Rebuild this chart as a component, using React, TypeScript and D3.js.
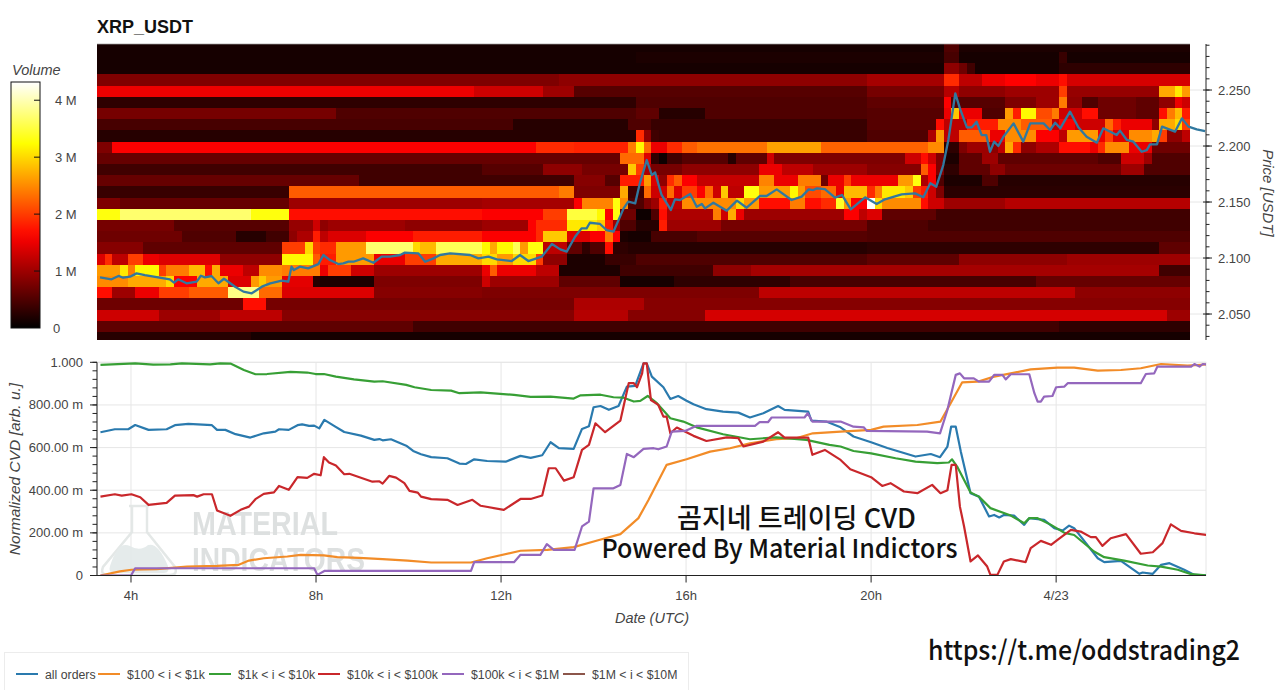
import React from "react";
import * as d3 from "d3";

// ---------- heatmap: volume (millions) per price bin, run-length form [untilColumn, value, ...]
const heatBinTopPrice = 2.294;
const heatBinSize = 0.01;
const heatColumns = 142;
const heatStartHour = 3.265;
const heatEndHour = 26.897;
const volumeRuns: number[][] = [
  [110,.15,112,.5,142,.18],
  [70,.15,110,.2,112,.45,125,.15,126,.35,142,.12],
  [110,.12,112,.9,113,.7,114,.4,125,.12,135,.3,142,.3],
  [60,.8,100,.9,110,1.05,112,1.9,115,1.2,118,1.5,122,1.65,125,1.5,126,1.7,142,1.35],
  [49,1.5,58,1.3,62,1.0,100,.55,110,.75,112,1.15,118,.9,125,1.0,126,2.0,138,.95,140,2.7,141,3.1,142,2.6],
  [70,.3,100,.5,110,.6,111,1.6,118,.55,122,.8,125,1.0,126,2.4,128,.9,130,.5,135,.7,138,.6,140,.9,141,1.5,142,1.3],
  [31,.75,70,.5,73,.6,79,.25,100,.5,110,.55,111,1.5,112,2.9,115,1.5,118,.5,119,2.6,120,1.8,122,3.2,124,2.1,125,2.4,128,1.3,130,1.7,135,.7,138,.6,139,1.7,140,2.4,141,2.8,142,1.8],
  [54,.45,69,.25,72,.5,100,.35,109,.55,110,1.7,113,1.2,117,1.8,120,2.5,124,2.2,125,1.2,127,1.6,131,1.3,132,2.3,133,1.8,137,1.5,138,.9,140,2.7,141,3.0,142,2.0],
  [70,.25,71,1.9,72,.9,73,.4,100,.35,108,.5,109,1.1,110,2.6,112,1.2,116,2.2,118,1.5,122,2.5,125,1.6,126,1.2,130,2.6,131,1.5,132,2.0,134,1.4,137,2.5,138,2.7,139,2.0,141,.9,142,1.2],
  [2,.8,57,1.6,62,1.9,69,1.85,70,2.4,71,3.2,72,2.3,74,1.5,76,1.9,78,2.2,87,2.35,94,2.65,108,2.25,110,2.5,112,.3,113,.8,116,1.0,117,.9,118,1.2,119,2.7,120,1.9,122,.9,125,1.1,129,1.7,130,1.5,131,1.9,134,2.5,137,1.5,142,.7],
  [68,.65,71,2.3,72,1.4,73,.3,74,.1,76,.4,82,.55,83,.25,87,.6,88,1.3,105,.8,107,1.3,108,1.7,109,1.3,110,.8,112,.2,115,.6,117,1.0,130,.6,133,.5,136,1.3,137,1.0,142,.5],
  [50,.4,58,.55,63,.9,69,.75,70,2.9,71,2.0,72,1.1,76,.75,86,.9,89,1.5,93,1.2,100,1.0,107,.85,108,2.2,109,1.6,110,.8,112,.3,116,.6,118,.9,133,.7,136,1.0,142,.5],
  [34,.65,62,.4,66,.85,68,.55,71,1.8,72,2.6,73,1.4,74,.9,75,1.9,76,2.2,78,1.6,86,1.25,88,2.45,91,1.5,94,2.4,95,.7,97,1.5,98,2.0,104,1.5,106,2.6,107,3.3,108,1.1,109,1.6,110,.5,115,.2,117,.5,142,.25],
  [25,.35,60,2.2,62,2.4,68,.8,69,2.7,71,.4,72,2.3,74,1.3,75,2.3,76,1.4,78,2.0,79,1.6,80,2.3,81,1.3,82,2.9,84,1.2,86,3.3,88,2.6,90,2.6,91,3.2,92,2.6,94,2.1,96,2.3,97,1.5,100,2.8,101,1.9,102,2.4,105,3.1,106,2.9,107,2.0,108,1.8,109,1.3,110,.8,142,.28],
  [3,.8,25,.65,50,1.0,62,1.05,63,1.6,67,2.45,68,3.3,69,2.5,71,.5,72,.8,73,1.0,74,1.8,76,1.2,83,2.5,84,3.0,86,2.6,90,1.7,92,2.4,94,1.7,96,1.9,97,3.4,98,2.6,100,1.6,101,4.3,102,3.0,107,2.5,108,1.7,110,1.3,118,1.0,142,1.15],
  [3,3.3,20,3.7,25,3.3,50,1.7,58,1.6,61,2.0,65,3.5,66,3.2,67,1.6,68,3.3,70,.7,72,.1,73,.5,74,1.7,80,1.1,81,2.4,82,1.3,83,2.7,84,1.5,97,1.0,99,1.6,100,1.2,102,1.4,109,.6,142,.4],
  [10,.75,25,.55,28,.95,29,1.3,30,.9,40,1.0,50,.9,56,1.0,57,1.6,61,1.9,65,3.1,66,2.9,67,1.8,68,1.0,70,.5,73,.25,74,1.8,81,1.0,100,.75,108,.5,142,.4],
  [11,.7,18,.5,22,.25,25,.4,26,.9,28,1.1,29,1.8,30,1.2,35,1.4,41,1.6,50,1.8,57,1.6,58,1.9,61,2.9,64,1.4,66,1.6,67,2.4,68,1.6,69,.2,72,.15,78,.45,100,.55,142,.5],
  [6,.85,24,.6,27,2.0,28,3.0,29,2.0,31,1.9,35,2.6,41,3.7,42,3.0,44,2.8,50,3.6,51,3.2,52,2.7,54,3.2,55,3.6,56,2.6,58,3.3,61,1.2,63,.6,64,.3,66,.5,67,1.7,69,.3,100,.25,138,.3,142,.6],
  [1,1.4,2,1.9,4,1.2,6,2.0,8,1.5,16,1.4,24,.9,28,3.2,29,2.2,31,1.8,36,2.6,40,1.5,44,2.0,50,2.7,52,3.0,54,2.6,57,3.0,58,2.0,61,.9,66,.2,70,.35,100,.5,112,.6,126,.9,142,1.0],
  [3,2.6,4,3.1,5,2.4,8,3.2,9,2.0,12,2.4,14,2.8,15,1.7,16,2.7,19,1.5,21,1.2,24,2.5,29,2.4,30,1.5,33,2.0,36,1.3,50,1.0,51,1.5,52,2.2,57,1.5,60,1.2,68,.2,80,.4,85,.9,138,1.05,142,.4],
  [4,2.5,9,2.7,10,3.0,13,1.6,17,2.7,20,1.4,21,2.6,22,2.9,24,2.6,28,1.45,29,.25,36,.2,50,.8,51,1.3,60,1.0,68,.6,75,.15,90,.3,122,.45,142,.65],
  [2,1.7,5,1.0,8,1.5,12,2.0,17,2.2,21,3.8,24,2.3,36,1.4,50,.85,86,.8,127,1.2,142,.9],
  [19,.7,22,1.7,62,.75,71,1.1,142,.85],
  [8,1.3,16,1.0,24,1.2,62,.85,69,1.15,79,.85,139,1.35,142,1.0],
  [41,.6,125,.4,142,.3],
  [20,.25,142,.15],
];

// ---------- price line
const priceHours = [3.33,3.58,3.73,3.83,3.98,4.12,4.3,4.84,4.93,5.02,5.2,5.42,5.51,5.6,5.74,5.89,6.01,6.25,6.43,6.61,6.83,7.01,7.26,7.4,7.47,7.52,7.65,7.83,8.05,8.16,8.3,8.48,8.59,8.7,8.81,9.02,9.24,9.42,9.6,9.82,9.92,10.21,10.36,10.54,10.68,10.9,11.33,11.51,11.73,11.91,12.23,12.41,12.59,12.88,13.1,13.28,13.42,13.6,13.74,13.85,13.92,14.14,14.28,14.43,14.65,14.75,14.9,15.0,15.15,15.26,15.33,15.47,15.67,15.76,15.87,16.09,16.23,16.34,16.41,16.59,16.88,17.1,17.31,17.6,17.74,17.96,18.28,18.5,18.65,18.75,18.83,19.0,19.22,19.37,19.56,19.87,20.12,20.3,20.66,20.95,21.13,21.28,21.41,21.56,21.67,21.82,21.92,22.07,22.18,22.28,22.39,22.49,22.57,22.66,22.75,22.86,23.08,23.29,23.44,23.73,23.87,23.98,24.09,24.3,24.48,24.66,24.88,25.02,25.31,25.38,25.53,25.67,25.85,25.96,26.03,26.18,26.29,26.57,26.72,26.86,27.04,27.22];
const priceValues = [2.0827,2.081,2.084,2.0824,2.0833,2.0863,2.0848,2.081,2.078,2.081,2.0774,2.0789,2.0842,2.0827,2.0839,2.0774,2.0815,2.0744,2.07,2.0685,2.0744,2.0774,2.0798,2.0789,2.0923,2.0893,2.0923,2.0908,2.0946,2.1027,2.0982,2.0946,2.0952,2.0967,2.0967,2.0997,2.0958,2.1012,2.1012,2.1027,2.1048,2.1042,2.0967,2.0997,2.1027,2.1042,2.1027,2.0997,2.1012,2.0988,2.0973,2.1027,2.0973,2.1012,2.1125,2.1077,2.1057,2.119,2.1265,2.1265,2.1315,2.1304,2.125,2.1235,2.1443,2.1503,2.1488,2.1667,2.1875,2.1741,2.1765,2.1563,2.1429,2.1524,2.1518,2.1571,2.1458,2.1482,2.1443,2.1494,2.1423,2.1512,2.1449,2.1554,2.1554,2.1613,2.1518,2.1548,2.1613,2.1607,2.1622,2.1616,2.1539,2.1563,2.1435,2.1542,2.1482,2.1524,2.1568,2.1577,2.1542,2.1667,2.1637,2.183,2.2054,2.247,2.2336,2.2167,2.2167,2.2217,2.2098,2.2098,2.1949,2.2039,2.2,2.2083,2.2202,2.2039,2.2202,2.2202,2.2143,2.2208,2.2158,2.2307,2.2167,2.2083,2.203,2.2158,2.2098,2.2137,2.2054,2.2039,2.1949,2.1964,2.2015,2.2015,2.2173,2.2128,2.2247,2.2173,2.2149,2.2134];

// ---------- CVD series
const allOrdersHours = [3.34,3.65,3.94,4.09,4.38,4.77,4.95,5.24,5.75,5.86,6.04,6.26,6.58,6.87,7.12,7.2,7.41,7.6,7.7,7.85,7.96,8.07,8.18,8.39,8.61,8.97,9.26,9.37,9.44,9.62,9.95,10.1,10.27,10.49,10.84,11.1,11.24,11.42,11.7,12.1,12.42,12.64,12.89,13.07,13.25,13.57,13.75,13.9,14,14.15,14.33,14.54,14.72,14.9,15.08,15.15,15.26,15.51,15.66,15.83,16.01,16.16,16.44,16.8,17.13,17.38,17.67,17.99,18.13,18.64,18.71,19.03,19.34,19.62,20,20.35,20.96,21.29,21.49,21.65,21.73,21.83,21.94,22.15,22.33,22.55,22.66,22.77,22.87,23.09,23.31,23.42,23.74,23.96,24.14,24.28,24.39,24.9,25.04,25.4,25.8,25.87,26.09,26.27,26.45,26.77,26.99,27.26];
const allOrdersCvd = [.672,.686,.686,.706,.683,.686,.705,.711,.705,.683,.683,.663,.647,.667,.675,.686,.683,.705,.709,.702,.703,.69,.73,.702,.673,.656,.636,.64,.634,.639,.609,.584,.569,.555,.55,.525,.523,.545,.537,.534,.561,.552,.564,.625,.597,.594,.6875,.70,.789,.795,.777,.795,.886,.889,.995,.995,.933,.883,.828,.842,.82,.803,.78,.769,.764,.741,.761,.795,.777,.769,.727,.722,.695,.652,.625,.598,.558,.57,.555,.605,.698,.698,.581,.386,.37,.277,.284,.272,.284,.281,.2375,.269,.261,.222,.211,.234,.222,.081,.0625,.069,.008,.014,.008,.05,.058,.027,.003,0];

const k1k10Hours = [3.34,4.09,4.48,4.85,5.1,5.71,5.93,6.15,6.44,6.69,6.94,7.45,7.81,7.99,8.17,8.43,8.82,9.26,9.44,9.95,10.13,10.49,10.92,11.1,11.56,12.28,12.64,13.07,13.57,13.72,14.15,14.43,14.65,14.87,15.01,15.17,15.37,15.66,15.94,16.23,16.8,17.38,17.95,18.6,19.1,19.34,19.62,20,20.53,20.96,21.43,21.68,21.75,21.86,22.15,22.33,22.58,23.02,23.31,23.42,23.6,23.89,24.18,24.39,24.82,25.04,25.47,25.98,26.27,26.63,26.92,27.26];
const k1k10Cvd = [.9875,.995,.989,.99,.995,.99,.995,.994,.964,.944,.945,.955,.952,.945,.945,.933,.92,.909,.911,.894,.883,.87,.867,.855,.859,.847,.8375,.839,.83,.845,.848,.836,.834,.816,.819,.842,.808,.7375,.722,.695,.6625,.639,.648,.636,.6125,.605,.584,.573,.55,.534,.527,.53,.545,.511,.389,.37,.316,.281,.245,.269,.269,.2375,.20,.19,.1125,.086,.07,.047,.042,.027,.006,0];

const k10k100Hours = [3.34,3.65,3.8,4.01,4.2,4.38,4.77,4.95,5.35,5.43,5.57,5.75,5.86,6.15,6.37,6.55,6.69,6.87,7.09,7.2,7.41,7.6,7.81,7.96,8.1,8.17,8.28,8.43,8.61,8.72,9.22,9.37,9.44,9.58,9.73,9.91,10.02,10.2,10.27,10.49,10.84,11.06,11.38,11.56,12.06,12.42,12.64,12.89,13.03,13.18,13.36,13.57,13.75,13.9,14.04,14.25,14.58,14.76,14.87,14.94,15.05,15.08,15.15,15.24,15.4,15.51,15.58,15.66,15.8,16.16,16.44,16.88,17.13,17.24,17.67,17.99,18.13,18.64,18.73,19,19.34,19.55,20,20.24,20.42,20.71,21,21.32,21.5,21.65,21.74,21.83,21.92,22.01,22.15,22.31,22.51,22.58,22.73,22.87,23.02,23.34,23.45,23.67,23.89,24.03,24.32,24.53,24.75,24.86,25,25.18,25.51,25.83,26.09,26.3,26.48,26.7,26.99,27.26];
const k10k100Cvd = [.37,.381,.375,.381,.367,.331,.341,.375,.377,.37,.381,.381,.305,.28,.308,.323,.358,.383,.39,.42,.402,.461,.458,.477,.47,.555,.53,.516,.475,.477,.44,.442,.431,.467,.459,.433,.397,.389,.37,.358,.355,.331,.355,.327,.308,.359,.359,.375,.503,.503,.445,.461,.589,.6125,.714,.672,.727,.902,.902,.883,.948,.995,.995,.823,.80,.745,.745,.667,.694,.655,.631,.648,.644,.605,.628,.672,.647,.647,.566,.589,.542,.498,.461,.42,.433,.394,.386,.425,.386,.40,.519,.519,.323,.23,.066,.094,.042,.003,.003,.066,.077,.0625,.128,.1625,.144,.167,.214,.206,.18,.18,.139,.175,.194,.102,.109,.152,.24,.209,.198,.19];

const h100k1Hours = [3.34,3.76,4.01,4.55,5.21,5.86,6.33,6.55,6.87,7.38,7.67,8.17,8.46,8.93,9.44,9.98,10.49,11.35,11.7,12.42,13,13.57,14.08,14.58,14.97,15.19,15.58,16.01,16.52,16.95,17.38,17.95,18.38,18.74,19.34,20,20.27,21,21.5,21.72,21.97,22.3,22.66,23.02,23.45,24.03,24.39,24.9,25.4,25.83,26.27,26.84,27.26];
const h100k1Cvd = [0,.019,.027,.03,.042,.045,.05,.07,.081,.089,.097,.094,.086,.083,.077,.07,.061,.061,.081,.116,.12,.133,.164,.194,.269,.355,.519,.545,.581,.597,.62,.639,.644,.667,.675,.683,.698,.706,.722,.808,.906,.909,.933,.948,.967,.975,.975,.961,.964,.972,.992,.984,.99];

const k100m1Hours = [3.34,4.0,4.09,7.96,8.03,8.19,11.35,11.42,12.28,12.42,12.85,12.99,13.14,13.59,13.75,13.9,14,14.43,14.58,14.72,14.87,15.08,15.3,15.4,15.58,15.69,15.98,16.23,17.49,17.59,17.77,17.85,18.56,18.63,18.73,19.34,19.62,19.84,19.91,21.21,21.49,21.65,21.83,21.92,22.01,22.22,22.33,22.55,22.66,22.84,22.91,23.02,23.42,23.53,23.6,23.67,23.74,23.92,24,24.18,24.25,25.83,25.94,26.12,26.19,26.92,26.99,27.1,27.17,27.26];
const k100m1Cvd = [0,0,.034,.034,.003,.022,.022,.0625,.0625,.097,.097,.147,.12,.12,.23,.253,.409,.409,.425,.57,.555,.594,.597,.592,.605,.675,.678,.702,.702,.719,.719,.741,.741,.761,.722,.722,.698,.695,.678,.675,.667,.777,.941,.948,.925,.925,.909,.909,.941,.941,.92,.944,.944,.855,.816,.816,.839,.842,.883,.886,.902,.902,.945,.948,.98,.98,.992,.98,.992,.99];

const cvdSeries = [
  { name: "all orders", color: "#2a7aae", hours: allOrdersHours, values: allOrdersCvd },
  { name: "$100 < i < $1k", color: "#f28c28", hours: h100k1Hours, values: h100k1Cvd },
  { name: "$1k < i < $10k", color: "#379f35", hours: k1k10Hours, values: k1k10Cvd },
  { name: "$10k < i < $100k", color: "#c9272b", hours: k10k100Hours, values: k10k100Cvd },
  { name: "$100k < i < $1M", color: "#9467bd", hours: k100m1Hours, values: k100m1Cvd },
  { name: "$1M < i < $10M", color: "#8c564b", hours: [] as number[], values: [] as number[] },
];

const hourTicks = [4, 8, 12, 16, 20, 24];
const hourLabels = ["4h", "8h", "12h", "16h", "20h", "4/23"];
const priceTicks = [2.05, 2.1, 2.15, 2.2, 2.25];
const cvdTicks = [0, 0.2, 0.4, 0.6, 0.8, 1];
const cvdLabels = ["0", "200.00 m", "400.00 m", "600.00 m", "800.00 m", "1.000"];
const volumeTicks = [0, 1, 2, 3, 4];
const volumeLabels = ["0", "1 M", "2 M", "3 M", "4 M"];
const legendTextX = [45, 127, 238, 347, 471, 592];

const FONT = "'Liberation Sans', Arial, sans-serif";
const KR = "'Noto Sans CJK KR', sans-serif";
const INK = "#444";

const x = d3.scaleLinear().domain([3.265, 27.24]).range([97, 1206]);
const priceY = d3.scaleLinear().domain([2.0268, 2.2911]).range([340, 44]);
const cvdY = d3.scaleLinear().domain([0, 1]).range([575.5, 362.3]);
const volumeY = d3.scaleLinear().domain([0, 4.32]).range([328, 82]);
const heatColor = d3.scaleLinear<string>()
  .domain([0, 1.62, 3.24, 4.32])
  .range(["#000000", "#ff0000", "#ffff00", "#ffffff"])
  .clamp(true);

const colBand = d3.scaleBand<number>()
  .domain(d3.range(heatColumns))
  .range([x(heatStartHour), x(heatEndHour)]);

function expandRuns(runs: number[]): number[] {
  const out: number[] = [];
  for (let i = 0; i < runs.length; i += 2) {
    while (out.length < runs[i]) out.push(runs[i + 1]);
  }
  return out;
}

function linePath(hours: number[], values: number[], yScale: (v: number) => number) {
  const gen = d3.line<number>().x((_, i) => x(hours[i])).y((v) => yScale(v));
  return gen(values) ?? "";
}

const gradientStops = d3.range(0, 1.0001, 0.05);

export default function App() {
  return (
    <svg
      width={1280}
      height={690}
      viewBox="0 0 1280 690"
      style={{ position: "absolute", left: 0, top: 0, display: "block", background: "#fff" }}
      fontFamily={FONT}
    >
      <defs>
        <clipPath id="topClip"><rect x={97} y={44} width={1109} height={296} /></clipPath>
        <clipPath id="heatClip"><rect x={97} y={44} width={1093} height={296} /></clipPath>
        <clipPath id="botClip"><rect x={97} y={360} width={1109} height={216} /></clipPath>
        <linearGradient id="cbar" x1="0" y1="1" x2="0" y2="0">
          {gradientStops.map((t) => (
            <stop key={t} offset={t} stopColor={heatColor(t * 4.32)} />
          ))}
        </linearGradient>
        <filter id="soft" x="-1%" y="-1%" width="102%" height="102%">
          <feGaussianBlur stdDeviation="0.6" />
        </filter>
      </defs>

      <text x={97} y={33} fontSize={18} fontWeight="bold" fill="#111">XRP_USDT</text>

      {/* colour bar */}
      <text x={12} y={75} fontSize={14.5} fontStyle="italic" fill={INK}>Volume</text>
      <rect x={11} y={82} width={29} height={246} fill="url(#cbar)" stroke="#111" strokeWidth={1} />
      {volumeTicks.map((v, i) => (
        <g key={v}>
          {v > 0 && <line x1={34} x2={40} y1={volumeY(v)} y2={volumeY(v)} stroke="#111" />}
          <text x={v === 0 ? 53 : 55} y={volumeY(v) + 4.5} fontSize={13} fill={INK}>{volumeLabels[i]}</text>
        </g>
      ))}

      {/* heat map panel */}
      <g stroke="#e6e6e6">
        {priceTicks.map((p) => <line key={p} x1={97} x2={1206} y1={priceY(p)} y2={priceY(p)} />)}
      </g>
      <g clipPath="url(#heatClip)">
        <g filter="url(#soft)" shapeRendering="crispEdges">
          {volumeRuns.map((runs, r) => {
            const top = heatBinTopPrice - r * heatBinSize;
            const y0 = priceY(top);
            const y1 = priceY(top - heatBinSize);
            return expandRuns(runs).map((v, c) => (
              <rect key={`${r}-${c}`} x={colBand(c)} y={y0} width={colBand.bandwidth() + 0.5} height={y1 - y0 + 0.5} fill={heatColor(v)} />
            ));
          })}
        </g>
      </g>
      <path d={linePath(priceHours, priceValues, priceY)} fill="none" stroke="#31789f" strokeWidth={2.3} strokeLinejoin="round" clipPath="url(#topClip)" />
      <rect x={97} y={43.5} width={1093} height={0.8} fill="#bbb" />
      {/* price axis */}
      <line x1={1206} x2={1206} y1={44} y2={340} stroke="#222" />
      {d3.range(2.03, 2.2905, 0.01).map((p) => (
        <line key={p} x1={1206} x2={1209.5} y1={priceY(p)} y2={priceY(p)} stroke="#222" />
      ))}
      {priceTicks.map((p) => (
        <g key={p}>
          <line x1={1203} x2={1212} y1={priceY(p)} y2={priceY(p)} stroke="#222" />
          <text x={1218} y={priceY(p) + 4.5} fontSize={13} fill={INK}>{p.toFixed(3)}</text>
        </g>
      ))}
      <text transform="translate(1263,193) rotate(90)" textAnchor="middle" fontSize={15} fontStyle="italic" fill={INK}>Price [USDT]</text>

      {/* CVD panel */}
      <rect x={97} y={362.3} width={1109} height={213.2} fill="none" stroke="#e6e6e6" />
      <g stroke="#e6e6e6">
        {cvdTicks.map((v) => <line key={v} x1={97} x2={1206} y1={cvdY(v)} y2={cvdY(v)} />)}
        {hourTicks.map((h) => <line key={h} x1={x(h)} x2={x(h)} y1={362.3} y2={575.5} />)}
      </g>

      {/* watermark */}
      <g opacity={0.95}>
        <path d="M129 506 L149 506 M132 506 L132 532 L103 567 Q100 575 108 575 L170 575 Q178 575 175 567 L147 532 L147 506" fill="none" stroke="#e3e7e6" strokeWidth={2.5} />
        <path d="M110 566 Q118 540 130 546 Q140 552 148 545 Q158 542 168 566 Q170 573 164 573 L114 573 Q108 573 110 566 Z" fill="#e4eaea" />
        <text x={192} y={535} fontSize={34} fontWeight="bold" fill="#dcdfdf" textLength={146} lengthAdjust="spacingAndGlyphs">MATERIAL</text>
        <text x={192} y={571} fontSize={34} fontWeight="bold" fill="#dcdfdf" textLength={173} lengthAdjust="spacingAndGlyphs">INDICATORS</text>
      </g>

      <g clipPath="url(#botClip)">
        {cvdSeries.filter((s) => s.hours.length > 0).map((s) => (
          <path key={s.name} d={linePath(s.hours, s.values, cvdY)} fill="none" stroke={s.color} strokeWidth={2.2} strokeLinejoin="round" />
        ))}
      </g>

      {/* CVD axes */}
      <line x1={97} x2={97} y1={362.3} y2={575.5} stroke="#222" />
      <line x1={97} x2={1206} y1={575.5} y2={575.5} stroke="#222" />
      {d3.range(0, 1.001, 0.04).map((v) => (
        <line key={v} x1={92.5} x2={97} y1={cvdY(v)} y2={cvdY(v)} stroke="#222" />
      ))}
      {cvdTicks.map((v, i) => (
        <g key={v}>
          <line x1={90} x2={97} y1={cvdY(v)} y2={cvdY(v)} stroke="#222" />
          <text x={83} y={cvdY(v) + 4.5} textAnchor="end" fontSize={13} fill={INK}>{cvdLabels[i]}</text>
        </g>
      ))}
      {hourTicks.map((h, i) => (
        <g key={h}>
          <line x1={x(h)} x2={x(h)} y1={575.5} y2={582.5} stroke="#222" />
          <text x={x(h)} y={600} textAnchor="middle" fontSize={13} fill={INK}>{hourLabels[i]}</text>
        </g>
      ))}
      <text x={652} y={623} textAnchor="middle" fontSize={14.5} fontStyle="italic" fill={INK}>Date (UTC)</text>
      <text transform="translate(20,469) rotate(-90)" textAnchor="middle" fontSize={15.5} fontStyle="italic" fill={INK}>Normalized CVD [arb. u.]</text>

      {/* overlay captions */}
      <text x={796.5} y={528} textAnchor="middle" fontSize={27} fontWeight={500} fontFamily={KR} fill="#111" textLength={239} lengthAdjust="spacingAndGlyphs">곰지네 트레이딩 CVD</text>
      <text x={779.5} y={558} textAnchor="middle" fontSize={26} fontWeight={500} fontFamily={KR} fill="#111" textLength={356} lengthAdjust="spacingAndGlyphs">Powered By Material Indictors</text>
      <text x={928} y={660} fontSize={27} fontWeight={500} fontFamily={KR} fill="#111" textLength={312} lengthAdjust="spacingAndGlyphs">https://t.me/oddstrading2</text>

      {/* legend */}
      <rect x={4.5} y={652.5} width={684} height={45} fill="#fff" stroke="#ececec" />
      {cvdSeries.map((s, i) => (
        <g key={s.name}>
          <line x1={legendTextX[i] - 29} x2={legendTextX[i] - 7} y1={674} y2={674} stroke={s.color} strokeWidth={2} />
          <text x={legendTextX[i]} y={679} fontSize={12.3} fill={INK}>{s.name}</text>
        </g>
      ))}
    </svg>
  );
}
